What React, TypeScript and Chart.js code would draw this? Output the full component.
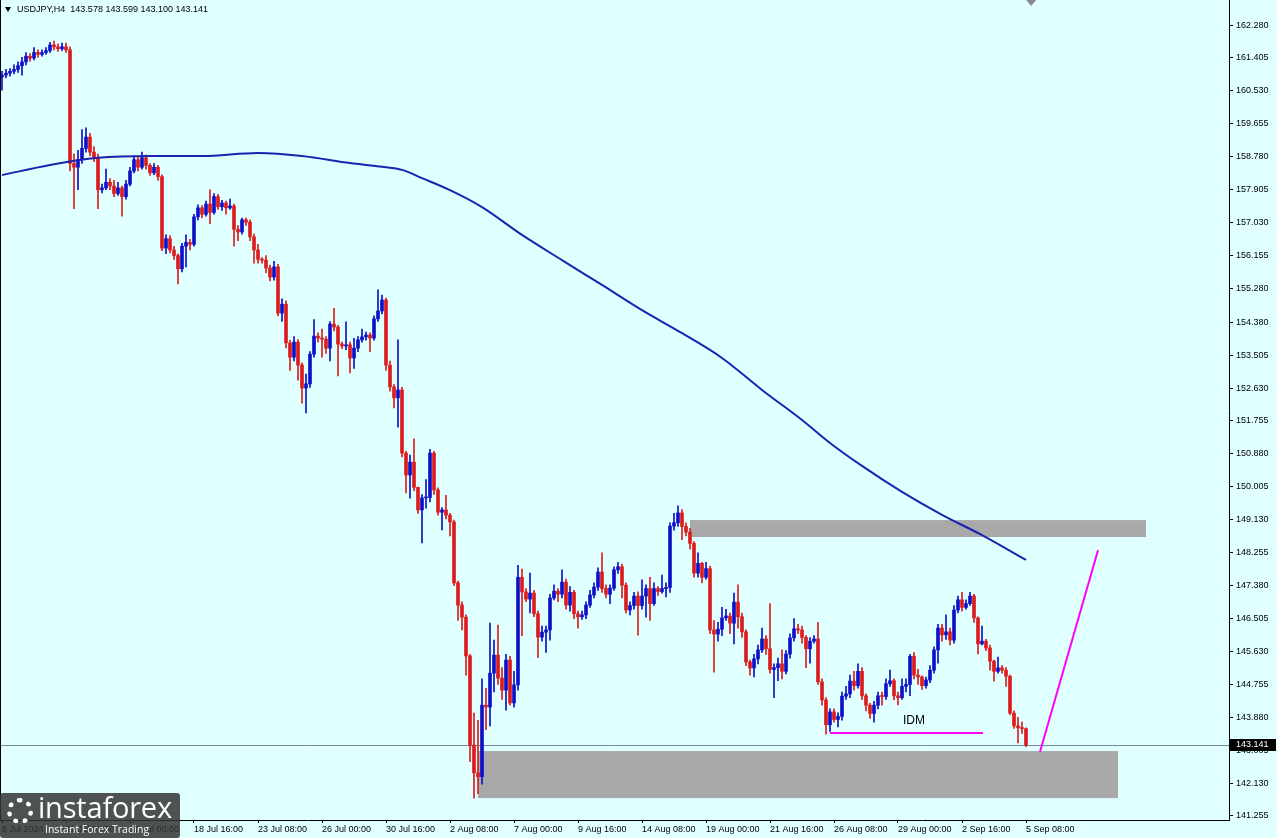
import React, { useEffect, useRef } from "react";
import { Chart, registerables } from "chart.js";

Chart.register(...registerables);

const symbolTitle = "USDJPY,H4";
const lastBar = [143.578, 143.599, 143.1, 143.141];
const lastPrice = 143.141;

const opens = [
  160.90,160.95,161.00,161.05,161.10,161.20,161.30,161.45,161.40,161.55,
  161.50,161.55,161.60,161.75,161.70,161.65,161.70,161.62,158.60,158.50,
  158.70,159.00,159.30,158.90,158.75,157.90,157.95,158.10,158.00,157.80,
  157.95,157.72,158.05,158.40,158.70,158.50,158.75,158.55,158.35,158.50,
  158.25,156.35,156.60,156.30,156.15,155.80,156.40,156.50,156.45,157.18,
  157.42,157.25,157.52,157.30,157.72,157.45,157.55,157.42,157.47,156.85,
  156.78,157.10,157.04,156.65,156.30,156.05,156.03,155.82,155.58,155.85,
  154.62,154.86,153.83,153.45,153.85,153.24,152.63,152.74,153.53,154.01,
  153.96,153.93,153.69,154.33,154.25,153.80,153.75,153.78,153.43,153.69,
  153.91,153.99,154.04,153.96,154.47,154.68,154.97,153.24,152.66,152.37,
  152.58,150.90,150.32,150.66,149.99,149.39,149.71,149.72,150.90,149.92,
  149.33,149.39,149.25,149.07,147.45,146.86,146.54,145.51,143.14,142.40,
  142.30,144.20,144.15,145.05,145.53,144.92,144.60,145.40,144.26,144.74,
  147.60,147.21,147.02,147.18,146.63,146.01,146.14,146.20,147.05,147.23,
  147.15,147.47,146.86,147.20,146.63,146.55,146.60,146.86,147.13,147.34,
  147.74,147.30,147.15,147.31,147.80,147.88,147.39,146.73,146.85,147.10,
  146.85,147.10,147.30,146.90,147.30,147.22,147.30,147.33,148.96,149.05,
  149.31,148.95,148.80,148.50,147.71,147.97,147.60,147.83,146.20,146.09,
  146.22,146.52,146.57,146.38,146.94,146.55,146.15,145.35,145.19,145.43,
  145.67,145.96,145.70,145.15,145.20,145.30,145.10,145.56,145.99,146.23,
  146.20,146.00,145.70,145.90,145.96,144.82,144.34,143.68,144.02,143.82,
  143.90,144.44,144.50,144.84,144.72,145.10,144.45,144.20,143.98,144.20,
  144.45,144.43,144.77,144.85,144.45,144.40,144.70,144.75,145.50,145.00,
  144.95,144.72,144.87,145.13,145.67,146.25,146.07,146.15,145.93,146.73,
  147.00,146.80,146.90,147.10,146.52,145.83,145.90,145.72,145.37,145.10,
  145.19,145.13,144.97,143.99,143.65,143.60,143.578,
];

const highs = [
  161.05,161.10,161.12,161.22,161.30,161.42,161.55,161.52,161.68,161.62,
  161.62,161.68,161.82,161.85,161.78,161.80,161.80,161.70,158.85,158.95,
  159.50,159.55,159.40,159.05,158.85,158.05,158.45,158.20,158.15,158.10,
  158.00,158.15,158.50,158.80,158.78,158.90,158.82,158.60,158.60,158.55,
  158.30,156.70,156.68,156.40,156.20,156.48,156.70,156.58,157.25,157.50,
  157.48,157.60,157.90,157.80,157.78,157.62,157.60,157.65,157.52,156.95,
  157.15,157.15,157.10,156.72,156.45,156.10,156.15,155.90,156.00,155.92,
  155.00,154.95,153.90,154.00,153.92,153.30,153.00,153.60,154.45,154.10,
  154.20,154.00,154.40,154.75,154.30,153.85,154.39,153.85,153.95,154.00,
  154.20,154.12,154.10,154.55,155.24,155.10,155.02,153.35,152.72,153.91,
  152.65,150.95,150.85,151.28,150.00,149.80,150.20,151.00,150.95,149.98,
  149.45,149.78,149.30,149.12,147.50,146.95,146.60,145.55,143.99,143.80,
  144.90,144.65,146.38,145.93,146.33,145.20,145.55,145.50,145.10,147.92,
  147.82,147.30,147.71,147.25,146.70,146.30,146.30,147.15,147.40,147.30,
  147.80,147.55,147.35,147.25,146.70,146.70,146.95,147.25,147.45,147.85,
  148.25,147.40,147.40,147.88,148.00,147.95,147.45,146.95,147.20,147.21,
  147.53,147.40,147.60,147.45,147.35,147.66,147.45,149.05,149.30,149.50,
  149.40,149.05,148.90,148.55,148.25,148.00,148.00,147.90,146.45,146.40,
  146.80,146.75,146.65,147.18,147.40,146.65,146.20,145.40,145.55,145.80,
  146.25,146.05,146.90,145.30,145.45,145.67,145.65,146.10,146.50,146.35,
  146.30,146.05,146.00,146.05,146.40,144.90,144.40,144.10,144.10,144.00,
  144.55,144.70,145.00,145.10,145.30,145.20,144.50,144.25,144.30,144.55,
  144.55,144.90,145.13,144.90,144.55,144.90,144.90,145.55,145.60,145.15,
  144.98,144.95,145.25,145.75,146.35,146.35,146.60,146.25,146.85,147.10,
  147.20,147.00,147.20,147.15,146.55,146.30,145.95,145.80,145.40,145.48,
  145.25,145.20,145.00,144.05,143.88,143.75,143.599,
];

const lows = [
  160.55,160.88,160.92,160.98,161.02,160.95,161.22,161.32,161.35,161.42,
  161.45,161.50,161.55,161.62,161.58,161.60,161.55,158.40,157.40,157.90,
  158.60,158.90,158.80,158.65,157.40,157.82,157.90,157.90,157.72,157.75,
  157.20,157.65,158.00,158.35,158.40,158.45,158.45,158.28,158.30,158.15,
  156.28,156.20,156.22,156.05,155.40,155.72,155.85,156.30,156.40,157.10,
  157.15,157.20,157.00,157.25,157.38,157.35,157.25,157.38,156.40,156.55,
  156.72,156.95,156.55,155.95,155.95,155.95,155.70,155.48,155.50,154.55,
  154.40,153.70,153.10,153.35,152.84,152.23,151.97,152.65,153.45,153.85,
  153.45,153.55,153.35,154.15,152.95,153.68,153.65,153.03,153.15,153.60,
  153.85,153.90,153.60,153.90,154.40,154.60,153.10,152.55,152.10,151.59,
  150.80,149.84,149.70,149.90,149.30,148.51,149.44,149.60,149.80,149.25,
  148.86,149.15,148.70,147.38,146.45,146.20,145.00,142.70,141.73,141.85,
  142.10,143.55,143.65,144.55,144.75,144.35,144.07,144.20,144.15,144.60,
  146.05,146.95,146.65,146.55,145.46,145.90,145.60,145.93,147.00,146.95,
  147.05,146.75,146.70,146.50,146.25,146.48,146.50,146.80,147.05,147.25,
  147.20,147.05,146.90,147.25,147.70,147.05,146.65,146.60,146.75,146.06,
  146.75,146.54,146.45,146.85,147.12,147.18,147.08,147.20,148.85,148.95,
  148.60,148.70,148.35,147.60,147.60,147.45,147.55,146.10,145.08,145.90,
  146.05,146.45,146.10,145.83,146.25,146.00,145.25,145.00,144.95,145.30,
  145.60,145.55,145.05,144.40,144.85,144.90,145.03,145.45,145.90,146.10,
  145.85,145.20,145.32,145.85,144.75,144.20,143.43,143.50,143.75,143.62,
  143.80,144.35,144.40,144.60,144.65,144.35,144.05,143.85,143.75,144.10,
  144.20,144.35,144.70,144.34,144.21,144.35,144.55,144.45,144.90,144.75,
  144.62,144.65,144.80,145.05,145.32,145.90,145.95,145.80,145.85,146.65,
  146.70,146.75,146.85,146.40,145.56,145.80,145.65,145.13,144.84,145.05,
  145.05,144.70,143.95,143.58,143.20,143.45,143.100,
];

const closes = [
  160.95,161.00,161.05,161.10,161.20,161.30,161.45,161.40,161.55,161.50,
  161.55,161.60,161.75,161.70,161.65,161.70,161.62,158.60,158.50,158.70,
  159.00,159.30,158.90,158.75,157.90,157.95,158.10,158.00,157.80,157.95,
  157.72,158.05,158.40,158.70,158.50,158.75,158.55,158.35,158.50,158.25,
  156.35,156.60,156.30,156.15,155.80,156.40,156.50,156.45,157.18,157.42,
  157.25,157.52,157.30,157.72,157.45,157.55,157.42,157.47,156.85,156.78,
  157.10,157.04,156.65,156.30,156.05,156.03,155.82,155.58,155.85,154.62,
  154.86,153.83,153.45,153.85,153.24,152.63,152.74,153.53,154.01,153.96,
  153.93,153.69,154.33,154.25,153.80,153.75,153.78,153.43,153.69,153.91,
  153.99,154.04,153.96,154.47,154.68,154.97,153.24,152.66,152.37,152.58,
  150.90,150.32,150.66,149.99,149.39,149.71,149.72,150.90,149.92,149.33,
  149.39,149.25,149.07,147.45,146.86,146.54,145.51,143.14,142.40,142.30,
  144.20,144.15,145.05,145.53,144.92,144.60,145.40,144.26,144.74,147.60,
  147.21,147.02,147.18,146.63,146.01,146.14,146.20,147.05,147.23,147.15,
  147.47,146.86,147.20,146.63,146.55,146.60,146.86,147.13,147.34,147.74,
  147.30,147.15,147.31,147.80,147.88,147.39,146.73,146.85,147.10,146.85,
  147.10,147.30,146.90,147.30,147.22,147.30,147.33,148.96,149.05,149.31,
  148.95,148.80,148.50,147.71,147.97,147.60,147.83,146.20,146.09,146.22,
  146.52,146.57,146.38,146.94,146.55,146.15,145.35,145.19,145.43,145.67,
  145.96,145.70,145.15,145.20,145.30,145.10,145.56,145.99,146.23,146.20,
  146.00,145.70,145.90,145.96,144.82,144.34,143.68,144.02,143.82,143.90,
  144.44,144.50,144.84,144.72,145.10,144.45,144.20,143.98,144.20,144.45,
  144.43,144.77,144.85,144.45,144.40,144.70,144.75,145.50,145.00,144.95,
  144.72,144.87,145.13,145.67,146.25,146.07,146.15,145.93,146.73,147.00,
  146.80,146.90,147.10,146.52,145.83,145.90,145.72,145.37,145.10,145.19,
  145.13,144.97,143.99,143.65,143.60,143.578,143.141,
];

// Moving average read at sample bars (bar index, price)
const maIndex = [0, 12, 24, 37, 50, 64, 75, 87, 95, 100, 105, 112, 120, 130, 140, 150, 160, 170, 180, 190, 200, 207, 215, 225, 235, 245, 256];
const maValues = [158.29, 158.56, 158.75, 158.80, 158.80, 158.88, 158.80, 158.61, 158.51, 158.43, 158.21, 157.89, 157.44, 156.70, 156.03, 155.37, 154.70, 154.09, 153.43, 152.58, 151.78, 151.17, 150.56, 149.87, 149.26, 148.72, 148.06];

const priceTicks = [162.28, 161.405, 160.53, 159.655, 158.78, 157.905, 157.03, 156.155, 155.28, 154.38, 153.505, 152.63, 151.755, 150.88, 150.005, 149.13, 148.255, 147.38, 146.505, 145.63, 144.755, 143.88, 143.005, 142.13, 141.255];

const timeTickIndex = [0, 16, 32, 48, 64, 80, 96, 112, 128, 144, 160, 176, 192, 208, 224, 240, 256];
const timeTickLabels = ["8 Jul 2024", "11 Jul 08:00", "16 Jul 00:00", "18 Jul 16:00", "23 Jul 08:00", "26 Jul 00:00", "30 Jul 16:00", "2 Aug 08:00", "7 Aug 00:00", "9 Aug 16:00", "14 Aug 08:00", "19 Aug 00:00", "21 Aug 16:00", "26 Aug 08:00", "29 Aug 00:00", "2 Sep 16:00", "5 Sep 08:00"];

// zones: [fromBar, toBar, topPrice, bottomPrice]
const supplyZone = [172, 286, 149.12, 148.67];
const demandZone = [119, 279, 142.98, 141.73];
// lines: [bar1, price1, bar2, price2]
const idmLine = [207, 143.46, 245.25, 143.46];
const projectionLine = [259.5, 142.96, 274, 148.32];
const idmLabel = { text: "IDM", bar: 228, price: 143.78 };

const Y_MIN = 141.148;
const Y_MAX = 162.945;
const X_MIN = -0.5;
const X_MAX = 306.75;

const BG = "#E0FFFF";
const BULL = "#1010C8";
const BEAR = "#DC1C1C";
const MA_COLOR = "#1C22B0";
const FONT = "'Liberation Sans', Arial, sans-serif";

const overlayPlugin = {
  id: "mtOverlay",
  beforeDraw(chart: any) {
    const { ctx, width, height } = chart;
    ctx.save();
    ctx.fillStyle = BG;
    ctx.fillRect(0, 0, width, height);
    ctx.restore();
  },
  beforeDatasetsDraw(chart: any) {
    const { ctx, chartArea } = chart;
    const xs = chart.scales.x;
    const ys = chart.scales.y;
    ctx.save();
    ctx.fillStyle = "#A9A9A9";
    [supplyZone, demandZone].forEach((z) => {
      const x1 = xs.getPixelForValue(z[0]);
      const x2 = xs.getPixelForValue(z[1]);
      const y1 = ys.getPixelForValue(z[2]);
      const y2 = ys.getPixelForValue(z[3]);
      ctx.fillRect(x1, y1, x2 - x1, y2 - y1);
    });
    const py = Math.round(ys.getPixelForValue(lastPrice)) + 0.5;
    ctx.strokeStyle = "#7A8A9A";
    ctx.lineWidth = 1;
    ctx.beginPath();
    ctx.moveTo(chartArea.left, py);
    ctx.lineTo(chartArea.right, py);
    ctx.stroke();
    ctx.restore();
  },
  afterDatasetsDraw(chart: any) {
    const { ctx } = chart;
    const xs = chart.scales.x;
    const ys = chart.scales.y;
    ctx.save();
    ctx.strokeStyle = "#FF00FF";
    ctx.lineWidth = 2;
    [idmLine, projectionLine].forEach((l) => {
      ctx.beginPath();
      ctx.moveTo(xs.getPixelForValue(l[0]), ys.getPixelForValue(l[1]));
      ctx.lineTo(xs.getPixelForValue(l[2]), ys.getPixelForValue(l[3]));
      ctx.stroke();
    });
    ctx.fillStyle = "#000";
    ctx.font = `12px ${FONT}`;
    ctx.textAlign = "center";
    ctx.textBaseline = "middle";
    ctx.fillText(idmLabel.text, xs.getPixelForValue(idmLabel.bar), ys.getPixelForValue(idmLabel.price));
    ctx.restore();
  },
  afterDraw(chart: any) {
    const { ctx, chartArea, width } = chart;
    const ys = chart.scales.y;
    const xs = chart.scales.x;
    ctx.save();
    ctx.strokeStyle = "#000";
    ctx.lineWidth = 1;
    ctx.beginPath();
    ctx.moveTo(0.5, 0);
    ctx.lineTo(0.5, chartArea.bottom);
    ctx.stroke();
    ctx.fillStyle = "#000";
    ctx.beginPath();
    ctx.moveTo(5, 7);
    ctx.lineTo(11, 7);
    ctx.lineTo(8, 12);
    ctx.closePath();
    ctx.fill();
    ctx.font = `9px ${FONT}`;
    ctx.textAlign = "left";
    ctx.textBaseline = "middle";
    ctx.fillText(`${symbolTitle}  ${lastBar.map((v) => v.toFixed(3)).join(" ")}`, 17, 10);
    const sx = xs.getPixelForValue(257.3);
    ctx.fillStyle = "#8C8C8C";
    ctx.beginPath();
    ctx.moveTo(sx - 5, 0);
    ctx.lineTo(sx + 5, 0);
    ctx.lineTo(sx, 6);
    ctx.closePath();
    ctx.fill();
    const py = Math.round(ys.getPixelForValue(lastPrice));
    ctx.fillStyle = "#000";
    ctx.fillRect(chartArea.right + 1, py - 6, width - chartArea.right - 2, 12);
    ctx.fillStyle = "#FFF";
    ctx.font = `9px ${FONT}`;
    ctx.textAlign = "left";
    ctx.textBaseline = "middle";
    ctx.fillText(lastPrice.toFixed(3), chartArea.right + 7, py);
    ctx.restore();
  },
};

export default function App() {
  const ref = useRef<HTMLCanvasElement>(null);

  useEffect(() => {
    document.body.style.margin = "0";
    const canvas = ref.current;
    if (!canvas) return;
    const idx = closes.map((_, i) => i);
    const colors = idx.map((i) => (closes[i] >= opens[i] ? BULL : BEAR));
    const fontCfg = { family: FONT, size: 9 };

    const chart = new Chart(canvas, {
      type: "bar",
      data: {
        datasets: [
          {
            type: "line",
            label: "MA",
            data: maIndex.map((x, k) => ({ x, y: maValues[k] })),
            borderColor: MA_COLOR,
            borderWidth: 2,
            pointRadius: 0,
            cubicInterpolationMode: "monotone",
            order: 0,
          } as any,
          {
            type: "bar",
            label: "body",
            data: idx.map((i) => ({ x: i, y: [opens[i], closes[i]] })),
            backgroundColor: colors,
            barThickness: 3,
            minBarLength: 1,
            grouped: false,
            borderSkipped: false,
            order: 1,
          } as any,
          {
            type: "bar",
            label: "wick",
            data: idx.map((i) => ({ x: i, y: [lows[i], highs[i]] })),
            backgroundColor: colors,
            barThickness: 1,
            grouped: false,
            borderSkipped: false,
            order: 2,
          } as any,
        ],
      },
      options: {
        animation: false,
        responsive: false,
        maintainAspectRatio: false,
        layout: { padding: 0 },
        plugins: { legend: { display: false }, tooltip: { enabled: false }, title: { display: false } },
        scales: {
          x: {
            type: "linear",
            min: X_MIN,
            max: X_MAX,
            offset: false,
            afterBuildTicks: (s: any) => {
              s.ticks = timeTickIndex.map((v) => ({ value: v }));
            },
            afterFit: (s: any) => {
              s.height = 18;
              s.paddingLeft = 0;
              s.paddingRight = 0;
            },
            ticks: {
              autoSkip: false,
              maxRotation: 0,
              minRotation: 0,
              align: "start",
              padding: 1,
              color: "#000",
              font: fontCfg,
              callback: (_v: any, i: number) => timeTickLabels[i],
            },
            grid: { display: true, drawOnChartArea: false, drawTicks: true, tickLength: 3, color: "#000", offset: false },
            border: { display: true, color: "#000" },
          } as any,
          y: {
            type: "linear",
            position: "right",
            min: Y_MIN,
            max: Y_MAX,
            afterBuildTicks: (s: any) => {
              s.ticks = priceTicks.map((v) => ({ value: v }));
            },
            afterFit: (s: any) => {
              s.width = 48;
              s.paddingTop = 0;
              s.paddingBottom = 0;
            },
            ticks: {
              autoSkip: false,
              padding: 3,
              color: "#000",
              font: fontCfg,
              callback: (v: any) => Number(v).toFixed(3),
            },
            grid: { display: true, drawOnChartArea: false, drawTicks: true, tickLength: 4, color: "#000" },
            border: { display: true, color: "#000" },
          } as any,
        },
      },
      plugins: [overlayPlugin],
    });
    return () => chart.destroy();
  }, []);

  return (
    <div style={{ position: "relative", width: 1277, height: 838, background: BG, overflow: "hidden" }}>
      <canvas ref={ref} width={1277} height={838} style={{ display: "block", width: 1277, height: 838 }} />
      <div
        style={{
          position: "absolute",
          left: 0,
          top: 793,
          width: 180,
          height: 45,
          background: "rgba(52,52,52,0.85)",
          borderRadius: 3,
          color: "#fff",
          fontFamily: "'Open Sans', 'Liberation Sans', sans-serif",
        }}
      >
        <div
          style={{
            position: "absolute",
            left: 7,
            top: 5,
            width: 26,
            height: 26,
            borderRadius: "50%",
            border: "5px dotted #fff",
            boxSizing: "border-box",
          }}
        />
        <div style={{ position: "absolute", left: 38, top: -3, fontSize: 29, lineHeight: "34px", letterSpacing: -0.2 }}>instaforex</div>
        <div style={{ position: "absolute", left: 45, top: 30, fontSize: 10.5, lineHeight: "12px" }}>Instant Forex Trading</div>
      </div>
    </div>
  );
}
